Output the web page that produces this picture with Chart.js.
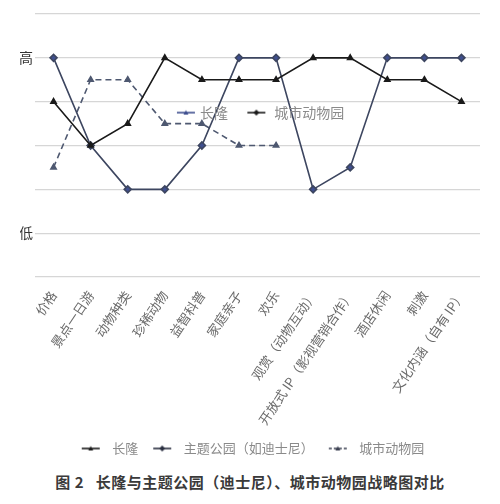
<!DOCTYPE html>
<html>
<head>
<meta charset="utf-8">
<script src="https://cdn.jsdelivr.net/npm/chart.js@4"></script>
<style>
  body { margin: 0; background: #fff; font-family: "Noto Sans CJK SC", sans-serif; }
  #wrap { position: relative; width: 500px; height: 465px; }
  #caption { width: 500px; text-align: center; font-size: 15px; font-weight: bold; color: #3a3a3a; margin-top: 6px; letter-spacing: 0.5px; }
</style>
</head>
<body>
<div id="wrap"><canvas id="chart"></canvas></div>
<div id="caption">图 2&nbsp;&nbsp;&nbsp;长隆与主题公园（迪士尼）、城市动物园战略图对比</div>
<script>
// categories and scores (0..6, 1 = 低, 5 = 高)
var categories = ['价格', '景点一日游', '动物种类', '珍稀动物', '益智科普', '家庭亲子', '欢乐',
    '观赏（动物互动）', '开放式 IP（影视营销合作）', '酒店休闲', '刺激', '文化内涵（自有 IP）'];
var changlong = [4, 3, 3.5, 5, 4.5, 4.5, 4.5, 5, 5, 4.5, 4.5, 4];
var themePark = [5, 3, 2, 2, 3, 5, 5, 2, 2.5, 5, 5, 5];
var cityZoo = [2.5, 4.5, 4.5, 3.5, 3.5, 3, 3, null, null, null, null, null];
var yTickLabels = { 1: '低', 5: '高' };

var FONT = '"Noto Sans CJK SC", sans-serif';

// small canvas with a line + marker for the legend swatches
function swatch(color, dashed, style) {
    var c = document.createElement('canvas');
    c.width = 20; c.height = 10;
    var g = c.getContext('2d');
    g.strokeStyle = color; g.fillStyle = color; g.lineWidth = 1.6;
    if (dashed) g.setLineDash([3, 2]);
    g.beginPath(); g.moveTo(1, 5); g.lineTo(19, 5); g.stroke();
    g.beginPath();
    if (style === 'diamond') {
        g.moveTo(10, 2); g.lineTo(13, 5); g.lineTo(10, 8); g.lineTo(7, 5);
    } else {
        g.moveTo(10, 2.5); g.lineTo(12.5, 7); g.lineTo(7.5, 7);
    }
    g.closePath(); g.fill();
    return c;
}

// stray legend that sits inside the plot in the original picture
var innerLegend = {
    id: 'innerLegend',
    afterDatasetsDraw: function(chart) {
        var ctx = chart.ctx, x = chart.scales.x, y = chart.scales.y;
        var yy = y.getPixelForValue(3.75);
        ctx.save();
        ctx.drawImage(swatch('#3f4f8f', false, 'tri'), x.getPixelForValue(3.3), yy - 5);
        ctx.drawImage(swatch('#1a1a1a', false, 'diamond'), x.getPixelForValue(5.2), yy - 5);
        ctx.font = '14px ' + FONT;
        ctx.fillStyle = '#8a8a8a';
        ctx.textBaseline = 'middle';
        ctx.fillText('长隆', x.getPixelForValue(3.95), yy);
        ctx.fillText('城市动物园', x.getPixelForValue(5.95), yy);
        ctx.restore();
    }
};

var data = {
    labels: categories,
    datasets: [{
        label: '长隆',
        data: changlong,
        borderColor: '#1a1a1a',
        backgroundColor: '#1a1a1a',
        borderWidth: 1.6,
        pointStyle: 'triangle',
        pointRadius: 3,
        tension: 0,
        legendSwatch: swatch('#1a1a1a', false, 'tri')
    }, {
        label: '主题公园（如迪士尼）',
        data: themePark,
        borderColor: '#3d4660',
        backgroundColor: '#3f4f8f',
        borderWidth: 1.6,
        pointStyle: 'rectRot',
        pointRadius: 3.5,
        tension: 0,
        legendSwatch: swatch('#2a2f40', false, 'diamond')
    }, {
        label: '城市动物园',
        data: cityZoo,
        borderColor: '#4e5870',
        backgroundColor: '#4e5870',
        borderWidth: 1.6,
        borderDash: [6, 4],
        pointStyle: 'triangle',
        pointRadius: 3,
        tension: 0,
        legendSwatch: swatch('#3a3f50', true, 'tri')
    }]
};

var options = {
    responsive: true,
    maintainAspectRatio: false,
    animation: false,
    layout: { padding: { left: 20, right: 20, top: 14, bottom: 0 } },
    scales: {
        x: {
            offset: true,
            grid: { display: false },
            border: { display: false },
            afterFit: function(scale) { scale.height = 156; scale.paddingLeft = 0; scale.paddingRight = 0; },
            ticks: {
                minRotation: 56,
                maxRotation: 56,
                autoSkip: false,
                color: '#6a6a6a',
                font: { family: FONT, size: 13 }
            }
        },
        y: {
            min: 0,
            max: 6,
            grid: { color: '#d6d6d6', lineWidth: 1.2, drawTicks: false },
            border: { display: false },
            afterFit: function(scale) { scale.width = 15; scale.paddingTop = 0; scale.paddingBottom = 0; },
            ticks: {
                stepSize: 1,
                padding: 2,
                color: '#333',
                font: { family: FONT, size: 14 },
                callback: function(v) { return yTickLabels[v] || ''; }
            }
        }
    },
    plugins: {
        legend: {
            position: 'bottom',
            labels: {
                usePointStyle: true,
                pointStyleWidth: 30,
                padding: 9,
                color: '#8a8a8a',
                font: { family: FONT, size: 13 },
                generateLabels: function(chart) {
                    return chart.data.datasets.map(function(ds, i) {
                        return {
                            text: ds.label,
                            pointStyle: ds.legendSwatch,
                            fontColor: '#8a8a8a',
                            datasetIndex: i,
                            hidden: false,
                            lineWidth: 0
                        };
                    });
                }
            }
        },
        tooltip: { enabled: false }
    }
};

var lineChart = new Chart(document.getElementById('chart'), {
    type: 'line',
    data: data,
    options: options,
    plugins: [innerLegend]
});
</script>
</body>
</html>
